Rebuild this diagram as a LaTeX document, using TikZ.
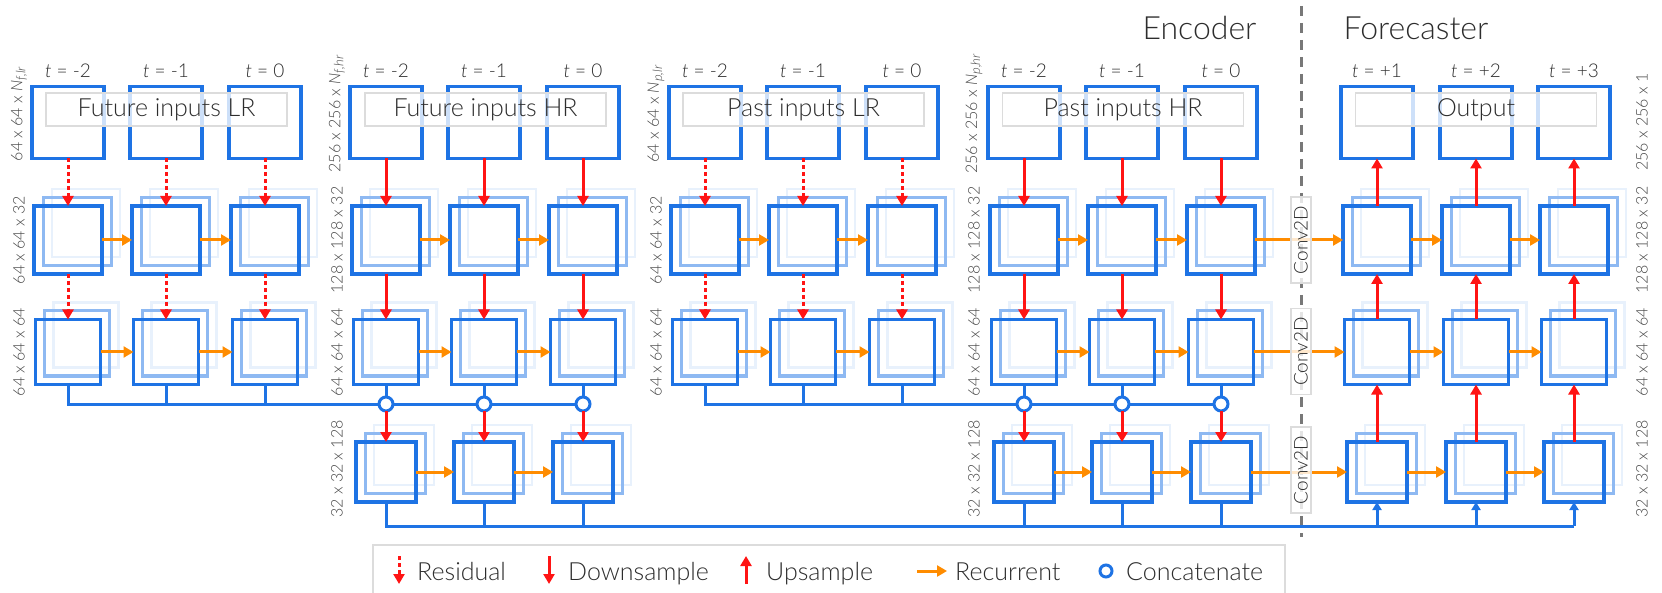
\documentclass[tikz,border=0pt]{standalone}
\usepackage{fontspec}
\setmainfont{Lato}[UprightFont={* Light}, ItalicFont={* Light Italic}]
\usetikzlibrary{arrows.meta}
\definecolor{cblue}{RGB}{30,115,228}
\definecolor{cred}{RGB}{255,20,20}
\definecolor{corange}{RGB}{255,140,0}
\definecolor{ctext}{RGB}{45,45,45}
\definecolor{clabel}{RGB}{70,70,70}
\definecolor{cgray}{RGB}{120,120,120}
\definecolor{cframe}{RGB}{220,220,220}
\newcommand\stackcell[4]{%
  \node[backbox, minimum size=#4] at ({#2+18},{#3-17}) {};
  \node[midbox, minimum size=#4] at ({#2+9},{#3-8.5}) {};
  \node[frontbox, minimum size=#4] (#1) at (#2,#3) {};
}
\newcommand\subtxt[1]{\raisebox{-0.4ex}{\fontsize{13}{13}\selectfont\itshape #1}}
\begin{document}
\begin{tikzpicture}[x=1pt,y=-1pt,
  frontbox/.style={draw=cblue, line width=3.5pt, inner sep=0pt, outer sep=0pt, shape=rectangle},
  midbox/.style={draw=cblue!50!white, line width=3pt, inner sep=0pt, outer sep=0pt, shape=rectangle},
  backbox/.style={draw=cblue!10!white, line width=2.5pt, inner sep=0pt, outer sep=0pt, shape=rectangle},
  lblbox/.style={draw=cframe, line width=1.5pt, fill=white, fill opacity=0.78, text opacity=1, text=ctext, font=\fontsize{25}{29}\selectfont, inner sep=0pt, minimum width=241, minimum height=33},
  tlabel/.style={text=ctext, font=\fontsize{19}{21}\selectfont, anchor=base},
  dimlabel/.style={text=clabel, rotate=90, font=\fontsize{16}{18}\selectfont, inner sep=0pt},
  resid/.style={draw=cred, line width=3pt, dash pattern=on 4pt off 3pt, -{Triangle[width=11pt,length=10pt]}},
  downar/.style={draw=cred, line width=3pt, -{Triangle[width=11pt,length=10pt]}},
  recur/.style={draw=corange, line width=3pt, -{Triangle[width=11pt,length=10pt]}},
  bus/.style={draw=cblue, line width=3pt},
  busup/.style={draw=cblue, line width=3pt, -{Triangle[width=9pt,length=8pt]}},
  concat/.style={circle, draw=cblue, fill=white, line width=3pt, minimum size=14, inner sep=0pt, outer sep=0pt},
  convbox/.style={draw=cframe, line width=1.2pt, fill=white, fill opacity=0.8, text opacity=1, text=ctext, rotate=90, minimum width=86, minimum height=20, inner sep=0pt, font=\fontsize{19}{21}\selectfont},
  sepline/.style={draw=cgray, line width=3pt, dash pattern=on 10pt off 7pt},
  title/.style={text=ctext, font=\fontsize{32}{35}\selectfont},
  legtext/.style={text=ctext, font=\fontsize{25}{29}\selectfont, anchor=base west, inner sep=0pt},
  legframe/.style={draw=cframe, line width=1.5pt}
]
\useasboundingbox (0,0) rectangle (1662,593);

% separator
\coordinate (sepT) at (1301,6);
\coordinate (sepB) at (1301,537);
\draw[sepline] (sepT) -- (sepB);

% cells
\foreach \p/\xa/\xb/\xc in {a/68/166/265, b/386/484/583, c/705/803/902, d/1024/1122/1221, e/1377/1476/1574}{
  \foreach \i/\x in {0/\xa,1/\xb,2/\xc}{
    \node[frontbox, minimum size=72] (\p\i-t) at (\x,122.5) {};
    \stackcell{\p\i-1}{\x}{240}{68}
    \stackcell{\p\i-2}{\x}{352}{65}
  }
}
\foreach \p/\xa/\xb/\xc in {b/386/484/583, d/1024/1122/1221, e/1377/1476/1574}{
  \foreach \i/\x in {0/\xa,1/\xb,2/\xc}{
    \stackcell{\p\i-3}{\x}{472}{60}
  }
}

% label boxes over the top rows
\node[lblbox] (la) at (166.5,109.5) {Future inputs LR};
\node[lblbox] (lb) at (485.5,109.5) {Future inputs HR};
\node[lblbox] (lc) at (803.5,109.5) {Past inputs LR};
\node[lblbox] (ld) at (1123,109.5) {Past inputs HR};
\node[lblbox] (le) at (1476,109.5) {Output};

% time labels
\foreach \p in {a,b,c,d}{
  \node[tlabel] (\p0-tl) at (\p0-t.north |- 0,78) {\textit{t} = -2};
  \node[tlabel] (\p1-tl) at (\p1-t.north |- 0,78) {\textit{t} = -1};
  \node[tlabel] (\p2-tl) at (\p2-t.north |- 0,78) {\textit{t} = 0};
}
\node[tlabel] (e0-tl) at (e0-t.north |- 0,78) {\textit{t} = +1};
\node[tlabel] (e1-tl) at (e1-t.north |- 0,78) {\textit{t} = +2};
\node[tlabel] (e2-tl) at (e2-t.north |- 0,78) {\textit{t} = +3};

% titles
\node[title, anchor=base east] (enc) at (1260,40) {Encoder};
\node[title, anchor=base west] (fc) at (1340,40) {Forecaster};

% dimension labels
\node[dimlabel] (da0) at (19,114) {64 x 64 x \textit{N}\subtxt{f,lr}};
\node[dimlabel] (da1) at (19,240) {64 x 64 x 32};
\node[dimlabel] (da2) at (19,352) {64 x 64 x 64};
\node[dimlabel] (db0) at (337,114) {256 x 256 x \textit{N}\subtxt{f,hr}};
\node[dimlabel] (db1) at (337,240) {128 x 128 x 32};
\node[dimlabel] (db2) at (337,352) {64 x 64 x 64};
\node[dimlabel] (db3) at (337,469) {32 x 32 x 128};
\node[dimlabel] (dc0) at (656,114) {64 x 64 x \textit{N}\subtxt{p,lr}};
\node[dimlabel] (dc1) at (656,240) {64 x 64 x 32};
\node[dimlabel] (dc2) at (656,352) {64 x 64 x 64};
\node[dimlabel] (dd0) at (974,114) {256 x 256 x \textit{N}\subtxt{p,hr}};
\node[dimlabel] (dd1) at (974,240) {128 x 128 x 32};
\node[dimlabel] (dd2) at (974,352) {64 x 64 x 64};
\node[dimlabel] (dd3) at (974,469) {32 x 32 x 128};
\node[dimlabel] (de0) at (1642,122) {256 x 256 x 1};
\node[dimlabel] (de1) at (1642,240) {128 x 128 x 32};
\node[dimlabel] (de2) at (1642,352) {64 x 64 x 64};
\node[dimlabel] (de3) at (1642,469) {32 x 32 x 128};

% residual and downsample arrows
\foreach \p in {a,c}{
  \foreach \i in {0,1,2}{
    \draw[resid] (\p\i-t.south) -- (\p\i-1.north);
    \draw[resid] (\p\i-1.south) -- (\p\i-2.north);
  }
}
\foreach \p in {b,d}{
  \foreach \i in {0,1,2}{
    \draw[downar] (\p\i-t.south) -- (\p\i-1.north);
    \draw[downar] (\p\i-1.south) -- (\p\i-2.north);
  }
}
% upsample arrows
\foreach \i in {0,1,2}{
  \draw[downar] (e\i-1.north) -- (e\i-t.south);
  \draw[downar] (e\i-2.north) -- (e\i-1.south);
  \draw[downar] (e\i-3.north) -- (e\i-2.south);
}

% recurrent arrows
\foreach \p in {a,b,c,d,e}{
  \draw[recur] (\p0-1.east) -- (\p1-1.west);
  \draw[recur] (\p1-1.east) -- (\p2-1.west);
  \draw[recur] (\p0-2.east) -- (\p1-2.west);
  \draw[recur] (\p1-2.east) -- (\p2-2.west);
}
\foreach \p in {b,d,e}{
  \draw[recur] (\p0-3.east) -- (\p1-3.west);
  \draw[recur] (\p1-3.east) -- (\p2-3.west);
}
\draw[recur] (d2-1.east) -- (e0-1.west);
\draw[recur] (d2-2.east) -- (e0-2.west);
\draw[recur] (d2-3.east) -- (e0-3.west);

% conv2d boxes
\node[convbox] (cv1) at (1301,240) {Conv2D};
\node[convbox] (cv2) at (1301,351.5) {Conv2D};
\node[convbox] (cv3) at (1301,470) {Conv2D};

% concatenation
\foreach \p/\xa/\xb/\xc in {b/386/484/583, d/1024/1122/1221}{
  \node[concat] (\p0-c) at (\xa,404) {};
  \node[concat] (\p1-c) at (\xb,404) {};
  \node[concat] (\p2-c) at (\xc,404) {};
}
\draw[bus] (a0-2.south) |- (b0-c);
\draw[bus] (a1-2.south) -- (a1-2.south |- b0-c.center);
\draw[bus] (a2-2.south) -- (a2-2.south |- b0-c.center);
\draw[bus] (c0-2.south) |- (d0-c);
\draw[bus] (c1-2.south) -- (c1-2.south |- d0-c.center);
\draw[bus] (c2-2.south) -- (c2-2.south |- d0-c.center);
\foreach \p in {b,d}{
  \draw[bus] (\p0-c) -- (\p1-c);
  \draw[bus] (\p1-c) -- (\p2-c);
  \foreach \i in {0,1,2}{
    \draw[bus] (\p\i-2.south) -- (\p\i-c);
    \draw[downar] (\p\i-c) -- (\p\i-3.north);
  }
}

% bottom bus
\coordinate (busy) at (0,526);
\draw[bus] (b0-3.south) |- (e2-3.south |- busy);
\foreach \n in {b1,b2,d0,d1,d2}{
  \draw[bus] (\n-3.south) -- (\n-3.south |- busy);
}
\foreach \n in {e0,e1,e2}{
  \draw[busup] (\n-3.south |- busy) -- (\n-3.south);
}

% legend
\draw[legframe] (373,545) rectangle (1285,625);
\coordinate (l1a) at (399,556); \coordinate (l1b) at (399,584);
\draw[resid] (l1a) -- (l1b);
\node[legtext] (t1) at (417,580) {Residual};
\coordinate (l2a) at (549,556); \coordinate (l2b) at (549,584);
\draw[downar] (l2a) -- (l2b);
\node[legtext] (t2) at (568,580) {Downsample};
\coordinate (l3a) at (746,584); \coordinate (l3b) at (746,556);
\draw[downar] (l3a) -- (l3b);
\node[legtext] (t3) at (766,580) {Upsample};
\coordinate (l4a) at (917,571); \coordinate (l4b) at (947,571);
\draw[recur] (l4a) -- (l4b);
\node[legtext] (t4) at (955,580) {Recurrent};
\node[concat, minimum size=12] (l5) at (1106,571) {};
\node[legtext] (t5) at (1126,580) {Concatenate};
\end{tikzpicture}
\end{document}
